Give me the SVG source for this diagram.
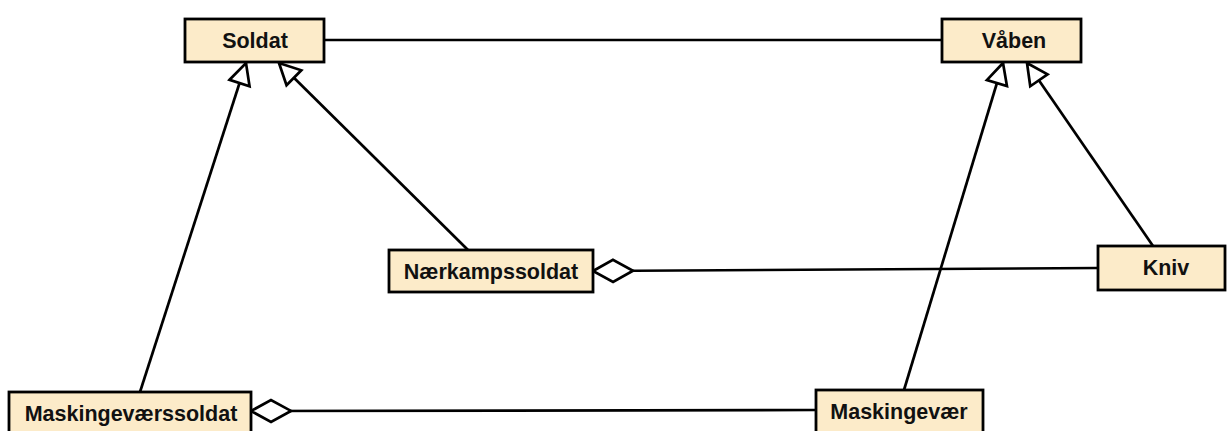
<svg xmlns="http://www.w3.org/2000/svg" width="1230" height="431" viewBox="0 0 1230 431">
  <style>
    .box { fill: #fcebc9; stroke: #000; stroke-width: 2.8; }
    .label { font-family: "Liberation Sans", Arial, sans-serif; font-weight: bold; font-size: 21.5px; fill: #111; text-anchor: middle; }
    .edge { fill: none; stroke: #000; stroke-width: 2.7; }
  </style>
  <defs>
    <!-- hollow triangle for generalisation -->
    <marker id="gen" markerUnits="userSpaceOnUse" markerWidth="26" markerHeight="26" refX="23" refY="11" orient="auto" overflow="visible">
      <path d="M2,0.5 L23,11 L2,21.5 Z" fill="#fff" stroke="#000" stroke-width="2.7" stroke-linejoin="miter"/>
    </marker>
    <!-- hollow diamond for aggregation -->
    <marker id="agg" markerUnits="userSpaceOnUse" markerWidth="42" markerHeight="24" refX="0" refY="11" orient="auto" overflow="visible">
      <path d="M0,11 L20,0 L40,11 L20,22 Z" fill="#fff" stroke="#000" stroke-width="2.7" stroke-linejoin="miter"/>
    </marker>
  </defs>

  <g id="connectors">
    <line class="edge" x1="324" y1="40" x2="942" y2="40"/>
    <line class="edge" x1="140" y1="392" x2="246" y2="63" marker-end="url(#gen)"/>
    <line class="edge" x1="468" y1="250" x2="279" y2="63" marker-end="url(#gen)"/>
    <line class="edge" x1="904" y1="390" x2="1003" y2="63" marker-end="url(#gen)"/>
    <line class="edge" x1="1153" y1="246" x2="1027" y2="63" marker-end="url(#gen)"/>
    <line class="edge" x1="593" y1="271" x2="1098" y2="268" marker-start="url(#agg)"/>
    <line class="edge" x1="251" y1="411" x2="816" y2="410" marker-start="url(#agg)"/>
  </g>

  <g id="soldat">
    <rect class="box" x="185" y="19" width="139" height="43"/>
    <text class="label" x="255" y="48">Soldat</text>
  </g>
  <g id="vaaben">
    <rect class="box" x="942" y="19" width="139" height="43"/>
    <text class="label" x="1014" y="48">Våben</text>
  </g>
  <g id="naerkampssoldat">
    <rect class="box" x="389" y="250" width="204" height="42"/>
    <text class="label" x="491" y="279">Nærkampssoldat</text>
  </g>
  <g id="kniv">
    <rect class="box" x="1098" y="246" width="127" height="44"/>
    <text class="label" x="1166" y="275">Kniv</text>
  </g>
  <g id="maskingevaerssoldat">
    <rect class="box" x="9" y="392" width="242" height="46"/>
    <text class="label" x="131" y="421">Maskingeværssoldat</text>
  </g>
  <g id="maskingevaer">
    <rect class="box" x="816" y="390" width="167" height="48"/>
    <text class="label" x="899" y="419">Maskingevær</text>
  </g>
</svg>
